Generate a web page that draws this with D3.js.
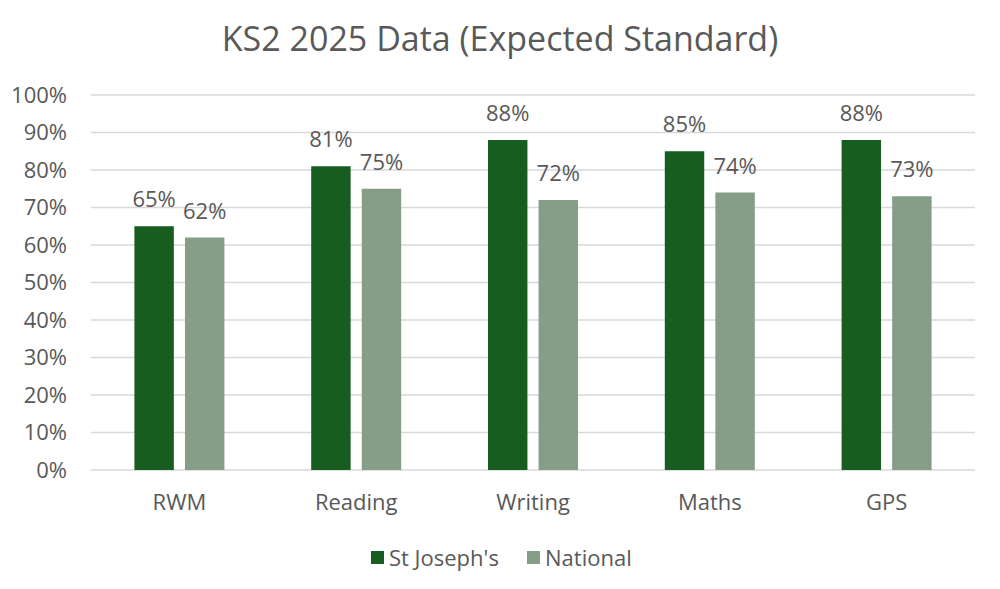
<!DOCTYPE html>
<html>
<head>
<meta charset="utf-8">
<script src="https://cdn.jsdelivr.net/npm/d3@7"></script>
<style>
  body { margin: 0; background: #fff; }
  text { font-family: "Open Sans", "Noto Sans", sans-serif; fill: #595959; }
</style>
</head>
<body>
<div id="chart"></div>
<script>
const categories = ["RWM", "Reading", "Writing", "Maths", "GPS"];
const seriesNames = ["St Joseph's", "National"];
const stJosephs = [65, 81, 88, 85, 88];
const national = [62, 75, 72, 74, 73];
const yTicks = [0, 10, 20, 30, 40, 50, 60, 70, 80, 90, 100];

const colors = ["#175d20", "#869d87"];

const WIDTH = 1000, HEIGHT = 589;
const MARGIN = {LEFT: 91, RIGHT: 25, TOP: 95, BOTTOM: 119};
const innerW = WIDTH - MARGIN.LEFT - MARGIN.RIGHT;
const innerH = HEIGHT - MARGIN.TOP - MARGIN.BOTTOM;

const svg = d3.select("#chart").append("svg")
    .attr("width", WIDTH)
    .attr("height", HEIGHT);

svg.append("text")
    .attr("x", WIDTH / 2)
    .attr("y", 51)
    .attr("text-anchor", "middle")
    .attr("font-size", 34)
    .text("KS2 2025 Data (Expected Standard)");

const g = svg.append("g")
    .attr("transform", `translate(${MARGIN.LEFT}, ${MARGIN.TOP})`);

const x = d3.scaleBand().domain(categories).range([0, innerW]);
const x1 = d3.scaleBand().domain(seriesNames).range([x.bandwidth() / 2 - 45, x.bandwidth() / 2 + 45]).paddingInner(0.22);
const y = d3.scaleLinear().domain([0, 100]).range([innerH, 0]);

// gridlines
g.append("g")
    .selectAll("line")
    .data(yTicks)
    .enter().append("line")
    .attr("x1", 0)
    .attr("x2", innerW)
    .attr("y1", d => y(d))
    .attr("y2", d => y(d))
    .attr("stroke", "#d9d9d9")
    .attr("stroke-width", 1.5);

// y axis labels
const yAxis = g.append("g")
    .call(d3.axisLeft(y).tickValues(yTicks).tickFormat(d => d + "%").tickSize(0).tickPadding(24));
yAxis.select(".domain").remove();
yAxis.selectAll("text")
    .attr("font-size", 22)
    .attr("fill", "#595959")
    .style("font-family", '"Open Sans", "Noto Sans", sans-serif');

// x axis labels
const xAxis = g.append("g")
    .attr("transform", `translate(0, ${innerH})`)
    .call(d3.axisBottom(x).tickSize(0).tickPadding(24));
xAxis.select(".domain").remove();
xAxis.selectAll("text")
    .attr("font-size", 22)
    .attr("fill", "#595959")
    .style("font-family", '"Open Sans", "Noto Sans", sans-serif');

const rows = categories.map((c, i) => ({
    category: c,
    values: [
        {series: seriesNames[0], value: stJosephs[i]},
        {series: seriesNames[1], value: national[i]}
    ]
}));

const groups = g.selectAll(".cat")
    .data(rows)
    .enter().append("g")
    .attr("class", "cat")
    .attr("transform", d => `translate(${x(d.category)}, 0)`);

groups.selectAll("rect")
    .data(d => d.values)
    .enter().append("rect")
    .attr("x", d => x1(d.series))
    .attr("width", x1.bandwidth())
    .attr("y", d => y(d.value))
    .attr("height", d => innerH - y(d.value))
    .attr("fill", (d, i) => colors[i]);

groups.selectAll(".lbl")
    .data(d => d.values)
    .enter().append("text")
    .attr("class", "lbl")
    .attr("x", d => x1(d.series) + x1.bandwidth() / 2)
    .attr("y", d => y(d.value) - 19)
    .attr("text-anchor", "middle")
    .attr("font-size", 22)
    .text(d => d.value + "%");

// legend
const legend = svg.append("g")
    .attr("transform", "translate(371, 558)");
const legendX = [0, 156];
const leg = legend.selectAll(".legendCol")
    .data(seriesNames)
    .enter().append("g")
    .attr("class", "legendCol")
    .attr("transform", (d, i) => `translate(${legendX[i]}, 0)`);
leg.append("rect")
    .attr("y", -7)
    .attr("width", 13)
    .attr("height", 13)
    .attr("fill", (d, i) => colors[i]);
leg.append("text")
    .attr("x", 18)
    .attr("y", 8)
    .attr("font-size", 22)
    .text(d => d);
</script>
</body>
</html>
